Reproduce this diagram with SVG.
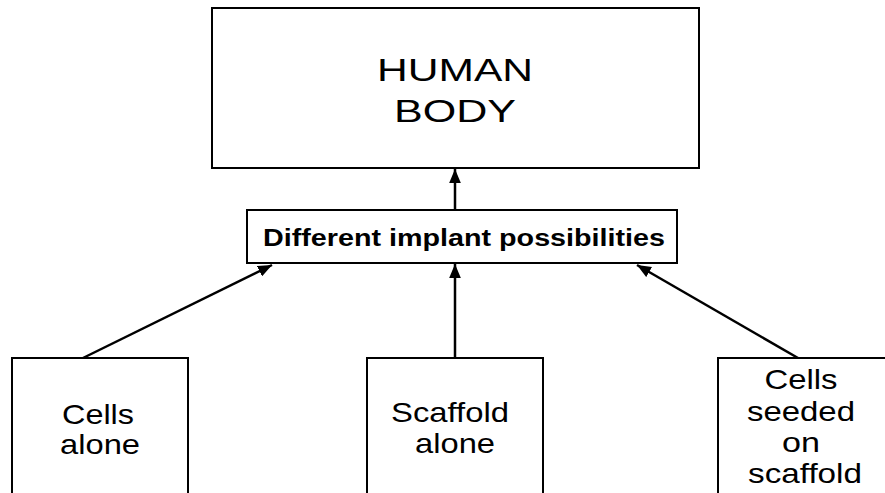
<svg xmlns="http://www.w3.org/2000/svg" width="885" height="493" viewBox="0 0 885 493">
<style>
.box{fill:#fff;stroke:#000;stroke-width:2}
.t{font-family:"Liberation Sans",Arial,sans-serif;fill:#000;text-anchor:middle}
.big{font-size:31px}
.mid{font-size:23px;font-weight:bold}
.sm{font-size:28px}
.conn{stroke:#000;stroke-width:2.5;fill:none;marker-end:url(#ah)}
</style>
<defs>
<marker id="ah" viewBox="0 0 12 10" refX="12" refY="5" markerWidth="5.6" markerHeight="4.8" markerUnits="strokeWidth" orient="auto">
<path d="M0,0 L12,5 L0,10 z" fill="#000"/>
</marker>
</defs>
<rect width="885" height="493" fill="#fff"/>
<g id="human-body">
<rect class="box" x="212" y="8" width="487" height="160"/>
<text class="t big" x="455" y="81" textLength="156" lengthAdjust="spacingAndGlyphs">HUMAN</text>
<text class="t big" x="455" y="122" textLength="122" lengthAdjust="spacingAndGlyphs">BODY</text>
</g>
<g id="implant-possibilities">
<rect class="box" x="247" y="210" width="430" height="53"/>
<text class="t mid" x="464" y="246" textLength="402" lengthAdjust="spacingAndGlyphs">Different implant possibilities</text>
</g>
<g id="cells-alone">
<rect class="box" x="12" y="358" width="176" height="150"/>
<text class="t sm" x="98" y="424" textLength="72" lengthAdjust="spacingAndGlyphs">Cells</text>
<text class="t sm" x="100" y="454" textLength="80" lengthAdjust="spacingAndGlyphs">alone</text>
</g>
<g id="scaffold-alone">
<rect class="box" x="367" y="358" width="176" height="150"/>
<text class="t sm" x="450" y="422" textLength="118" lengthAdjust="spacingAndGlyphs">Scaffold</text>
<text class="t sm" x="455" y="453" textLength="80" lengthAdjust="spacingAndGlyphs">alone</text>
</g>
<g id="cells-seeded">
<rect class="box" x="718" y="358" width="200" height="150"/>
<text class="t sm" x="801" y="389" textLength="73" lengthAdjust="spacingAndGlyphs">Cells</text>
<text class="t sm" x="801" y="421" textLength="108" lengthAdjust="spacingAndGlyphs">seeded</text>
<text class="t sm" x="801" y="452" textLength="38" lengthAdjust="spacingAndGlyphs">on</text>
<text class="t sm" x="805" y="483" textLength="114" lengthAdjust="spacingAndGlyphs">scaffold</text>
</g>
<g id="connectors">
<line class="conn" x1="455" y1="210" x2="455" y2="169"/>
<line class="conn" x1="83" y1="358" x2="272" y2="265"/>
<line class="conn" x1="455" y1="358" x2="455" y2="264"/>
<line class="conn" x1="798" y1="358" x2="637" y2="265"/>
</g>
</svg>
